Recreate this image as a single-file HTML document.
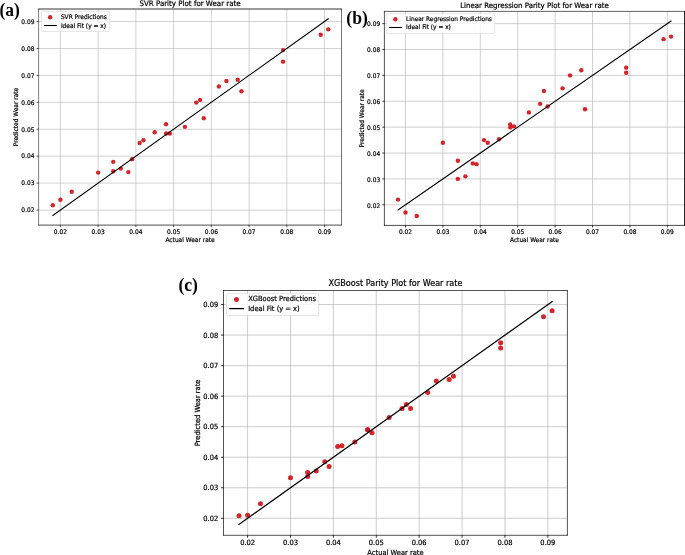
<!DOCTYPE html>
<html><head><meta charset="utf-8"><title>Parity plots</title>
<style>html,body{margin:0;padding:0;background:#fff;}svg{display:block}</style></head>
<body>
<svg width="685" height="555" viewBox="0 0 685 555">
<rect width="685" height="555" fill="#fff"/>
<rect x="38.6" y="9.0" width="302.90" height="216.10" fill="#fff"/>
<line x1="60.40" y1="9.0" x2="60.40" y2="225.1" stroke="#b0b0b0" stroke-width="0.56"/>
<line x1="38.6" y1="210.05" x2="341.5" y2="210.05" stroke="#b0b0b0" stroke-width="0.56"/>
<line x1="98.13" y1="9.0" x2="98.13" y2="225.1" stroke="#b0b0b0" stroke-width="0.56"/>
<line x1="38.6" y1="183.12" x2="341.5" y2="183.12" stroke="#b0b0b0" stroke-width="0.56"/>
<line x1="135.86" y1="9.0" x2="135.86" y2="225.1" stroke="#b0b0b0" stroke-width="0.56"/>
<line x1="38.6" y1="156.19" x2="341.5" y2="156.19" stroke="#b0b0b0" stroke-width="0.56"/>
<line x1="173.59" y1="9.0" x2="173.59" y2="225.1" stroke="#b0b0b0" stroke-width="0.56"/>
<line x1="38.6" y1="129.26" x2="341.5" y2="129.26" stroke="#b0b0b0" stroke-width="0.56"/>
<line x1="211.32" y1="9.0" x2="211.32" y2="225.1" stroke="#b0b0b0" stroke-width="0.56"/>
<line x1="38.6" y1="102.33" x2="341.5" y2="102.33" stroke="#b0b0b0" stroke-width="0.56"/>
<line x1="249.05" y1="9.0" x2="249.05" y2="225.1" stroke="#b0b0b0" stroke-width="0.56"/>
<line x1="38.6" y1="75.40" x2="341.5" y2="75.40" stroke="#b0b0b0" stroke-width="0.56"/>
<line x1="286.78" y1="9.0" x2="286.78" y2="225.1" stroke="#b0b0b0" stroke-width="0.56"/>
<line x1="38.6" y1="48.47" x2="341.5" y2="48.47" stroke="#b0b0b0" stroke-width="0.56"/>
<line x1="324.51" y1="9.0" x2="324.51" y2="225.1" stroke="#b0b0b0" stroke-width="0.56"/>
<line x1="38.6" y1="21.54" x2="341.5" y2="21.54" stroke="#b0b0b0" stroke-width="0.56"/>
<circle cx="52.85" cy="205.20" r="2.2" fill="#d1151a" fill-opacity="0.93"/>
<circle cx="60.40" cy="199.82" r="2.2" fill="#d1151a" fill-opacity="0.93"/>
<circle cx="71.72" cy="191.74" r="2.2" fill="#d1151a" fill-opacity="0.93"/>
<circle cx="98.13" cy="172.62" r="2.2" fill="#d1151a" fill-opacity="0.93"/>
<circle cx="113.22" cy="161.85" r="2.2" fill="#d1151a" fill-opacity="0.93"/>
<circle cx="113.22" cy="171.27" r="2.2" fill="#d1151a" fill-opacity="0.93"/>
<circle cx="120.77" cy="168.58" r="2.2" fill="#d1151a" fill-opacity="0.93"/>
<circle cx="128.31" cy="172.08" r="2.2" fill="#d1151a" fill-opacity="0.93"/>
<circle cx="132.09" cy="159.15" r="2.2" fill="#d1151a" fill-opacity="0.93"/>
<circle cx="139.63" cy="142.99" r="2.2" fill="#d1151a" fill-opacity="0.93"/>
<circle cx="143.41" cy="140.30" r="2.2" fill="#d1151a" fill-opacity="0.93"/>
<circle cx="154.72" cy="132.22" r="2.2" fill="#d1151a" fill-opacity="0.93"/>
<circle cx="166.04" cy="124.14" r="2.2" fill="#d1151a" fill-opacity="0.93"/>
<circle cx="166.04" cy="133.57" r="2.2" fill="#d1151a" fill-opacity="0.93"/>
<circle cx="169.82" cy="133.57" r="2.2" fill="#d1151a" fill-opacity="0.93"/>
<circle cx="184.91" cy="126.84" r="2.2" fill="#d1151a" fill-opacity="0.93"/>
<circle cx="196.23" cy="102.60" r="2.2" fill="#d1151a" fill-opacity="0.93"/>
<circle cx="200.00" cy="99.91" r="2.2" fill="#d1151a" fill-opacity="0.93"/>
<circle cx="203.77" cy="118.22" r="2.2" fill="#d1151a" fill-opacity="0.93"/>
<circle cx="218.87" cy="86.44" r="2.2" fill="#d1151a" fill-opacity="0.93"/>
<circle cx="226.41" cy="81.06" r="2.2" fill="#d1151a" fill-opacity="0.93"/>
<circle cx="237.73" cy="79.71" r="2.2" fill="#d1151a" fill-opacity="0.93"/>
<circle cx="241.50" cy="91.29" r="2.2" fill="#d1151a" fill-opacity="0.93"/>
<circle cx="283.01" cy="50.09" r="2.2" fill="#d1151a" fill-opacity="0.93"/>
<circle cx="283.01" cy="61.67" r="2.2" fill="#d1151a" fill-opacity="0.93"/>
<circle cx="320.74" cy="34.74" r="2.2" fill="#d1151a" fill-opacity="0.93"/>
<circle cx="328.28" cy="29.35" r="2.2" fill="#d1151a" fill-opacity="0.93"/>
<line x1="52.85" y1="215.44" x2="328.28" y2="18.85" stroke="#000" stroke-width="1.08" stroke-linecap="square"/>
<line x1="38.6" y1="8.60" x2="38.6" y2="225.45" stroke="#000" stroke-width="0.5"/>
<line x1="341.5" y1="8.60" x2="341.5" y2="225.45" stroke="#000" stroke-width="0.55"/>
<line x1="38.35" y1="9.0" x2="341.77" y2="9.0" stroke="#000" stroke-width="0.8"/>
<line x1="38.35" y1="225.1" x2="341.77" y2="225.1" stroke="#000" stroke-width="0.7"/>
<line x1="60.40" y1="225.1" x2="60.40" y2="227.16" stroke="#000" stroke-width="0.70"/>
<text transform="translate(60.40,233.71) scale(1,1.07)" font-size="5.90" text-anchor="middle" font-family="DejaVu Sans, Liberation Sans, sans-serif" stroke="#000" stroke-width="0.20" fill="#000">0.02</text>
<line x1="36.54" y1="210.05" x2="38.6" y2="210.05" stroke="#000" stroke-width="0.70"/>
<text transform="translate(34.47,212.29) scale(1,1.07)" font-size="5.90" text-anchor="end" font-family="DejaVu Sans, Liberation Sans, sans-serif" stroke="#000" stroke-width="0.20" fill="#000">0.02</text>
<line x1="98.13" y1="225.1" x2="98.13" y2="227.16" stroke="#000" stroke-width="0.70"/>
<text transform="translate(98.13,233.71) scale(1,1.07)" font-size="5.90" text-anchor="middle" font-family="DejaVu Sans, Liberation Sans, sans-serif" stroke="#000" stroke-width="0.20" fill="#000">0.03</text>
<line x1="36.54" y1="183.12" x2="38.6" y2="183.12" stroke="#000" stroke-width="0.70"/>
<text transform="translate(34.47,185.36) scale(1,1.07)" font-size="5.90" text-anchor="end" font-family="DejaVu Sans, Liberation Sans, sans-serif" stroke="#000" stroke-width="0.20" fill="#000">0.03</text>
<line x1="135.86" y1="225.1" x2="135.86" y2="227.16" stroke="#000" stroke-width="0.70"/>
<text transform="translate(135.86,233.71) scale(1,1.07)" font-size="5.90" text-anchor="middle" font-family="DejaVu Sans, Liberation Sans, sans-serif" stroke="#000" stroke-width="0.20" fill="#000">0.04</text>
<line x1="36.54" y1="156.19" x2="38.6" y2="156.19" stroke="#000" stroke-width="0.70"/>
<text transform="translate(34.47,158.43) scale(1,1.07)" font-size="5.90" text-anchor="end" font-family="DejaVu Sans, Liberation Sans, sans-serif" stroke="#000" stroke-width="0.20" fill="#000">0.04</text>
<line x1="173.59" y1="225.1" x2="173.59" y2="227.16" stroke="#000" stroke-width="0.70"/>
<text transform="translate(173.59,233.71) scale(1,1.07)" font-size="5.90" text-anchor="middle" font-family="DejaVu Sans, Liberation Sans, sans-serif" stroke="#000" stroke-width="0.20" fill="#000">0.05</text>
<line x1="36.54" y1="129.26" x2="38.6" y2="129.26" stroke="#000" stroke-width="0.70"/>
<text transform="translate(34.47,131.50) scale(1,1.07)" font-size="5.90" text-anchor="end" font-family="DejaVu Sans, Liberation Sans, sans-serif" stroke="#000" stroke-width="0.20" fill="#000">0.05</text>
<line x1="211.32" y1="225.1" x2="211.32" y2="227.16" stroke="#000" stroke-width="0.70"/>
<text transform="translate(211.32,233.71) scale(1,1.07)" font-size="5.90" text-anchor="middle" font-family="DejaVu Sans, Liberation Sans, sans-serif" stroke="#000" stroke-width="0.20" fill="#000">0.06</text>
<line x1="36.54" y1="102.33" x2="38.6" y2="102.33" stroke="#000" stroke-width="0.70"/>
<text transform="translate(34.47,104.57) scale(1,1.07)" font-size="5.90" text-anchor="end" font-family="DejaVu Sans, Liberation Sans, sans-serif" stroke="#000" stroke-width="0.20" fill="#000">0.06</text>
<line x1="249.05" y1="225.1" x2="249.05" y2="227.16" stroke="#000" stroke-width="0.70"/>
<text transform="translate(249.05,233.71) scale(1,1.07)" font-size="5.90" text-anchor="middle" font-family="DejaVu Sans, Liberation Sans, sans-serif" stroke="#000" stroke-width="0.20" fill="#000">0.07</text>
<line x1="36.54" y1="75.40" x2="38.6" y2="75.40" stroke="#000" stroke-width="0.70"/>
<text transform="translate(34.47,77.64) scale(1,1.07)" font-size="5.90" text-anchor="end" font-family="DejaVu Sans, Liberation Sans, sans-serif" stroke="#000" stroke-width="0.20" fill="#000">0.07</text>
<line x1="286.78" y1="225.1" x2="286.78" y2="227.16" stroke="#000" stroke-width="0.70"/>
<text transform="translate(286.78,233.71) scale(1,1.07)" font-size="5.90" text-anchor="middle" font-family="DejaVu Sans, Liberation Sans, sans-serif" stroke="#000" stroke-width="0.20" fill="#000">0.08</text>
<line x1="36.54" y1="48.47" x2="38.6" y2="48.47" stroke="#000" stroke-width="0.70"/>
<text transform="translate(34.47,50.71) scale(1,1.07)" font-size="5.90" text-anchor="end" font-family="DejaVu Sans, Liberation Sans, sans-serif" stroke="#000" stroke-width="0.20" fill="#000">0.08</text>
<line x1="324.51" y1="225.1" x2="324.51" y2="227.16" stroke="#000" stroke-width="0.70"/>
<text transform="translate(324.51,233.71) scale(1,1.07)" font-size="5.90" text-anchor="middle" font-family="DejaVu Sans, Liberation Sans, sans-serif" stroke="#000" stroke-width="0.20" fill="#000">0.09</text>
<line x1="36.54" y1="21.54" x2="38.6" y2="21.54" stroke="#000" stroke-width="0.70"/>
<text transform="translate(34.47,23.78) scale(1,1.07)" font-size="5.90" text-anchor="end" font-family="DejaVu Sans, Liberation Sans, sans-serif" stroke="#000" stroke-width="0.20" fill="#000">0.09</text>
<text transform="translate(190.05,242.00) scale(1,1.07)" font-size="5.90" text-anchor="middle" font-family="DejaVu Sans, Liberation Sans, sans-serif" stroke="#000" stroke-width="0.20" fill="#000">Actual Wear rate</text>
<text transform="translate(18.00,117.05) rotate(-90) scale(1,1.07)" font-size="5.90" text-anchor="middle" font-family="DejaVu Sans, Liberation Sans, sans-serif" stroke="#000" stroke-width="0.20" fill="#000">Predicted Wear rate</text>
<text transform="translate(190.05,6.00) scale(1,1.07)" font-size="7.08" text-anchor="middle" font-family="DejaVu Sans, Liberation Sans, sans-serif" stroke="#000" stroke-width="0.20" fill="#000">SVR Parity Plot for Wear rate</text>
<rect x="41.4" y="11.4" width="68.0" height="20.1" rx="1.18" fill="#fff" fill-opacity="0.8" stroke="#ccc" stroke-opacity="0.8" stroke-width="0.59"/>
<circle cx="50.11" cy="17.25" r="2.2" fill="#d1151a" fill-opacity="0.93"/>
<line x1="44.36" y1="25.50" x2="56.16" y2="25.50" stroke="#000" stroke-width="1.08" stroke-linecap="square"/>
<text transform="translate(60.88,19.49) scale(1,1.07)" font-size="5.90" text-anchor="start" font-family="DejaVu Sans, Liberation Sans, sans-serif" stroke="#000" stroke-width="0.20" fill="#000">SVR Predictions</text>
<text transform="translate(60.88,27.74) scale(1,1.07)" font-size="5.90" text-anchor="start" font-family="DejaVu Sans, Liberation Sans, sans-serif" stroke="#000" stroke-width="0.20" fill="#000">Ideal Fit (y = x)</text>
<text transform="translate(-0.5,16.4) scale(1,1.04)" font-size="17.5" font-weight="bold" font-family="Liberation Serif, DejaVu Serif, serif">(a)</text>
<rect x="384.4" y="11.4" width="300.10" height="214.00" fill="#fff"/>
<line x1="405.50" y1="11.4" x2="405.50" y2="225.4" stroke="#b0b0b0" stroke-width="0.60"/>
<line x1="384.4" y1="204.80" x2="684.5" y2="204.80" stroke="#b0b0b0" stroke-width="0.60"/>
<line x1="442.90" y1="11.4" x2="442.90" y2="225.4" stroke="#b0b0b0" stroke-width="0.60"/>
<line x1="384.4" y1="178.92" x2="684.5" y2="178.92" stroke="#b0b0b0" stroke-width="0.60"/>
<line x1="480.30" y1="11.4" x2="480.30" y2="225.4" stroke="#b0b0b0" stroke-width="0.60"/>
<line x1="384.4" y1="153.04" x2="684.5" y2="153.04" stroke="#b0b0b0" stroke-width="0.60"/>
<line x1="517.70" y1="11.4" x2="517.70" y2="225.4" stroke="#b0b0b0" stroke-width="0.60"/>
<line x1="384.4" y1="127.16" x2="684.5" y2="127.16" stroke="#b0b0b0" stroke-width="0.60"/>
<line x1="555.10" y1="11.4" x2="555.10" y2="225.4" stroke="#b0b0b0" stroke-width="0.60"/>
<line x1="384.4" y1="101.28" x2="684.5" y2="101.28" stroke="#b0b0b0" stroke-width="0.60"/>
<line x1="592.50" y1="11.4" x2="592.50" y2="225.4" stroke="#b0b0b0" stroke-width="0.60"/>
<line x1="384.4" y1="75.40" x2="684.5" y2="75.40" stroke="#b0b0b0" stroke-width="0.60"/>
<line x1="629.90" y1="11.4" x2="629.90" y2="225.4" stroke="#b0b0b0" stroke-width="0.60"/>
<line x1="384.4" y1="49.52" x2="684.5" y2="49.52" stroke="#b0b0b0" stroke-width="0.60"/>
<line x1="667.30" y1="11.4" x2="667.30" y2="225.4" stroke="#b0b0b0" stroke-width="0.60"/>
<line x1="384.4" y1="23.64" x2="684.5" y2="23.64" stroke="#b0b0b0" stroke-width="0.60"/>
<circle cx="398.02" cy="199.62" r="2.2" fill="#d1151a" fill-opacity="0.93"/>
<circle cx="405.50" cy="212.56" r="2.2" fill="#d1151a" fill-opacity="0.93"/>
<circle cx="416.72" cy="215.93" r="2.2" fill="#d1151a" fill-opacity="0.93"/>
<circle cx="442.90" cy="142.69" r="2.2" fill="#d1151a" fill-opacity="0.93"/>
<circle cx="457.86" cy="160.80" r="2.2" fill="#d1151a" fill-opacity="0.93"/>
<circle cx="457.86" cy="178.92" r="2.2" fill="#d1151a" fill-opacity="0.93"/>
<circle cx="465.34" cy="176.33" r="2.2" fill="#d1151a" fill-opacity="0.93"/>
<circle cx="472.82" cy="163.39" r="2.2" fill="#d1151a" fill-opacity="0.93"/>
<circle cx="476.56" cy="164.17" r="2.2" fill="#d1151a" fill-opacity="0.93"/>
<circle cx="484.04" cy="140.10" r="2.2" fill="#d1151a" fill-opacity="0.93"/>
<circle cx="487.78" cy="142.69" r="2.2" fill="#d1151a" fill-opacity="0.93"/>
<circle cx="499.00" cy="139.32" r="2.2" fill="#d1151a" fill-opacity="0.93"/>
<circle cx="510.22" cy="124.57" r="2.2" fill="#d1151a" fill-opacity="0.93"/>
<circle cx="510.22" cy="127.42" r="2.2" fill="#d1151a" fill-opacity="0.93"/>
<circle cx="513.96" cy="126.38" r="2.2" fill="#d1151a" fill-opacity="0.93"/>
<circle cx="528.92" cy="112.41" r="2.2" fill="#d1151a" fill-opacity="0.93"/>
<circle cx="540.14" cy="103.87" r="2.2" fill="#d1151a" fill-opacity="0.93"/>
<circle cx="543.88" cy="90.93" r="2.2" fill="#d1151a" fill-opacity="0.93"/>
<circle cx="547.62" cy="106.46" r="2.2" fill="#d1151a" fill-opacity="0.93"/>
<circle cx="562.58" cy="88.34" r="2.2" fill="#d1151a" fill-opacity="0.93"/>
<circle cx="570.06" cy="75.40" r="2.2" fill="#d1151a" fill-opacity="0.93"/>
<circle cx="581.28" cy="70.22" r="2.2" fill="#d1151a" fill-opacity="0.93"/>
<circle cx="585.02" cy="109.30" r="2.2" fill="#d1151a" fill-opacity="0.93"/>
<circle cx="626.16" cy="67.64" r="2.2" fill="#d1151a" fill-opacity="0.93"/>
<circle cx="626.16" cy="72.81" r="2.2" fill="#d1151a" fill-opacity="0.93"/>
<circle cx="663.56" cy="39.17" r="2.2" fill="#d1151a" fill-opacity="0.93"/>
<circle cx="671.04" cy="36.58" r="2.2" fill="#d1151a" fill-opacity="0.93"/>
<line x1="398.02" y1="209.98" x2="671.04" y2="21.05" stroke="#000" stroke-width="1.08" stroke-linecap="square"/>
<line x1="384.4" y1="11.09" x2="384.4" y2="225.76" stroke="#000" stroke-width="0.67"/>
<line x1="684.5" y1="11.09" x2="684.5" y2="225.76" stroke="#000" stroke-width="0.85"/>
<line x1="384.06" y1="11.4" x2="684.92" y2="11.4" stroke="#000" stroke-width="0.62"/>
<line x1="384.06" y1="225.4" x2="684.92" y2="225.4" stroke="#000" stroke-width="0.72"/>
<line x1="405.50" y1="225.4" x2="405.50" y2="227.45" stroke="#000" stroke-width="0.80"/>
<text transform="translate(405.50,233.96) scale(1,1.07)" font-size="5.86" text-anchor="middle" font-family="DejaVu Sans, Liberation Sans, sans-serif" stroke="#000" stroke-width="0.20" fill="#000">0.02</text>
<line x1="382.35" y1="204.80" x2="384.4" y2="204.80" stroke="#000" stroke-width="0.80"/>
<text transform="translate(380.10,207.53) scale(1,1.07)" font-size="5.86" text-anchor="end" font-family="DejaVu Sans, Liberation Sans, sans-serif" stroke="#000" stroke-width="0.20" fill="#000">0.02</text>
<line x1="442.90" y1="225.4" x2="442.90" y2="227.45" stroke="#000" stroke-width="0.80"/>
<text transform="translate(442.90,233.96) scale(1,1.07)" font-size="5.86" text-anchor="middle" font-family="DejaVu Sans, Liberation Sans, sans-serif" stroke="#000" stroke-width="0.20" fill="#000">0.03</text>
<line x1="382.35" y1="178.92" x2="384.4" y2="178.92" stroke="#000" stroke-width="0.80"/>
<text transform="translate(380.10,181.65) scale(1,1.07)" font-size="5.86" text-anchor="end" font-family="DejaVu Sans, Liberation Sans, sans-serif" stroke="#000" stroke-width="0.20" fill="#000">0.03</text>
<line x1="480.30" y1="225.4" x2="480.30" y2="227.45" stroke="#000" stroke-width="0.80"/>
<text transform="translate(480.30,233.96) scale(1,1.07)" font-size="5.86" text-anchor="middle" font-family="DejaVu Sans, Liberation Sans, sans-serif" stroke="#000" stroke-width="0.20" fill="#000">0.04</text>
<line x1="382.35" y1="153.04" x2="384.4" y2="153.04" stroke="#000" stroke-width="0.80"/>
<text transform="translate(380.10,155.77) scale(1,1.07)" font-size="5.86" text-anchor="end" font-family="DejaVu Sans, Liberation Sans, sans-serif" stroke="#000" stroke-width="0.20" fill="#000">0.04</text>
<line x1="517.70" y1="225.4" x2="517.70" y2="227.45" stroke="#000" stroke-width="0.80"/>
<text transform="translate(517.70,233.96) scale(1,1.07)" font-size="5.86" text-anchor="middle" font-family="DejaVu Sans, Liberation Sans, sans-serif" stroke="#000" stroke-width="0.20" fill="#000">0.05</text>
<line x1="382.35" y1="127.16" x2="384.4" y2="127.16" stroke="#000" stroke-width="0.80"/>
<text transform="translate(380.10,129.89) scale(1,1.07)" font-size="5.86" text-anchor="end" font-family="DejaVu Sans, Liberation Sans, sans-serif" stroke="#000" stroke-width="0.20" fill="#000">0.05</text>
<line x1="555.10" y1="225.4" x2="555.10" y2="227.45" stroke="#000" stroke-width="0.80"/>
<text transform="translate(555.10,233.96) scale(1,1.07)" font-size="5.86" text-anchor="middle" font-family="DejaVu Sans, Liberation Sans, sans-serif" stroke="#000" stroke-width="0.20" fill="#000">0.06</text>
<line x1="382.35" y1="101.28" x2="384.4" y2="101.28" stroke="#000" stroke-width="0.80"/>
<text transform="translate(380.10,104.01) scale(1,1.07)" font-size="5.86" text-anchor="end" font-family="DejaVu Sans, Liberation Sans, sans-serif" stroke="#000" stroke-width="0.20" fill="#000">0.06</text>
<line x1="592.50" y1="225.4" x2="592.50" y2="227.45" stroke="#000" stroke-width="0.80"/>
<text transform="translate(592.50,233.96) scale(1,1.07)" font-size="5.86" text-anchor="middle" font-family="DejaVu Sans, Liberation Sans, sans-serif" stroke="#000" stroke-width="0.20" fill="#000">0.07</text>
<line x1="382.35" y1="75.40" x2="384.4" y2="75.40" stroke="#000" stroke-width="0.80"/>
<text transform="translate(380.10,78.13) scale(1,1.07)" font-size="5.86" text-anchor="end" font-family="DejaVu Sans, Liberation Sans, sans-serif" stroke="#000" stroke-width="0.20" fill="#000">0.07</text>
<line x1="629.90" y1="225.4" x2="629.90" y2="227.45" stroke="#000" stroke-width="0.80"/>
<text transform="translate(629.90,233.96) scale(1,1.07)" font-size="5.86" text-anchor="middle" font-family="DejaVu Sans, Liberation Sans, sans-serif" stroke="#000" stroke-width="0.20" fill="#000">0.08</text>
<line x1="382.35" y1="49.52" x2="384.4" y2="49.52" stroke="#000" stroke-width="0.80"/>
<text transform="translate(380.10,52.25) scale(1,1.07)" font-size="5.86" text-anchor="end" font-family="DejaVu Sans, Liberation Sans, sans-serif" stroke="#000" stroke-width="0.20" fill="#000">0.08</text>
<line x1="667.30" y1="225.4" x2="667.30" y2="227.45" stroke="#000" stroke-width="0.80"/>
<text transform="translate(667.30,233.96) scale(1,1.07)" font-size="5.86" text-anchor="middle" font-family="DejaVu Sans, Liberation Sans, sans-serif" stroke="#000" stroke-width="0.20" fill="#000">0.09</text>
<line x1="382.35" y1="23.64" x2="384.4" y2="23.64" stroke="#000" stroke-width="0.80"/>
<text transform="translate(380.10,26.37) scale(1,1.07)" font-size="5.86" text-anchor="end" font-family="DejaVu Sans, Liberation Sans, sans-serif" stroke="#000" stroke-width="0.20" fill="#000">0.09</text>
<text transform="translate(534.45,242.00) scale(1,1.07)" font-size="5.86" text-anchor="middle" font-family="DejaVu Sans, Liberation Sans, sans-serif" stroke="#000" stroke-width="0.20" fill="#000">Actual Wear rate</text>
<text transform="translate(363.50,118.40) rotate(-90) scale(1,1.07)" font-size="5.86" text-anchor="middle" font-family="DejaVu Sans, Liberation Sans, sans-serif" stroke="#000" stroke-width="0.20" fill="#000">Predicted Wear rate</text>
<text transform="translate(534.45,7.90) scale(1,1.07)" font-size="7.03" text-anchor="middle" font-family="DejaVu Sans, Liberation Sans, sans-serif" stroke="#000" stroke-width="0.20" fill="#000">Linear Regression Parity Plot for Wear rate</text>
<rect x="386.7" y="13.6" width="108.0" height="20.0" rx="1.17" fill="#fff" fill-opacity="0.8" stroke="#ccc" stroke-opacity="0.8" stroke-width="0.59"/>
<circle cx="395.35" cy="19.30" r="2.2" fill="#d1151a" fill-opacity="0.93"/>
<line x1="389.64" y1="27.50" x2="401.36" y2="27.50" stroke="#000" stroke-width="1.08" stroke-linecap="square"/>
<text transform="translate(406.05,21.03) scale(1,1.07)" font-size="5.86" text-anchor="start" font-family="DejaVu Sans, Liberation Sans, sans-serif" stroke="#000" stroke-width="0.20" fill="#000">Linear Regression Predictions</text>
<text transform="translate(406.05,29.43) scale(1,1.07)" font-size="5.86" text-anchor="start" font-family="DejaVu Sans, Liberation Sans, sans-serif" stroke="#000" stroke-width="0.20" fill="#000">Ideal Fit (y = x)</text>
<text transform="translate(346.3,23.8) scale(1,1.04)" font-size="17.6" font-weight="bold" font-family="Liberation Serif, DejaVu Serif, serif">(b)</text>
<rect x="223.5" y="290.5" width="343.90" height="244.80" fill="#fff"/>
<line x1="247.60" y1="290.5" x2="247.60" y2="535.3" stroke="#b0b0b0" stroke-width="0.63"/>
<line x1="223.5" y1="518.30" x2="567.4" y2="518.30" stroke="#b0b0b0" stroke-width="0.63"/>
<line x1="290.49" y1="290.5" x2="290.49" y2="535.3" stroke="#b0b0b0" stroke-width="0.63"/>
<line x1="223.5" y1="487.77" x2="567.4" y2="487.77" stroke="#b0b0b0" stroke-width="0.63"/>
<line x1="333.38" y1="290.5" x2="333.38" y2="535.3" stroke="#b0b0b0" stroke-width="0.63"/>
<line x1="223.5" y1="457.24" x2="567.4" y2="457.24" stroke="#b0b0b0" stroke-width="0.63"/>
<line x1="376.27" y1="290.5" x2="376.27" y2="535.3" stroke="#b0b0b0" stroke-width="0.63"/>
<line x1="223.5" y1="426.71" x2="567.4" y2="426.71" stroke="#b0b0b0" stroke-width="0.63"/>
<line x1="419.16" y1="290.5" x2="419.16" y2="535.3" stroke="#b0b0b0" stroke-width="0.63"/>
<line x1="223.5" y1="396.18" x2="567.4" y2="396.18" stroke="#b0b0b0" stroke-width="0.63"/>
<line x1="462.05" y1="290.5" x2="462.05" y2="535.3" stroke="#b0b0b0" stroke-width="0.63"/>
<line x1="223.5" y1="365.65" x2="567.4" y2="365.65" stroke="#b0b0b0" stroke-width="0.63"/>
<line x1="504.94" y1="290.5" x2="504.94" y2="535.3" stroke="#b0b0b0" stroke-width="0.63"/>
<line x1="223.5" y1="335.12" x2="567.4" y2="335.12" stroke="#b0b0b0" stroke-width="0.63"/>
<line x1="547.83" y1="290.5" x2="547.83" y2="535.3" stroke="#b0b0b0" stroke-width="0.63"/>
<line x1="223.5" y1="304.59" x2="567.4" y2="304.59" stroke="#b0b0b0" stroke-width="0.63"/>
<circle cx="239.02" cy="515.86" r="2.5" fill="#d1151a" fill-opacity="0.93"/>
<circle cx="247.60" cy="515.25" r="2.5" fill="#d1151a" fill-opacity="0.93"/>
<circle cx="260.47" cy="503.65" r="2.5" fill="#d1151a" fill-opacity="0.93"/>
<circle cx="290.49" cy="477.70" r="2.5" fill="#d1151a" fill-opacity="0.93"/>
<circle cx="307.65" cy="472.50" r="2.5" fill="#d1151a" fill-opacity="0.93"/>
<circle cx="307.65" cy="476.47" r="2.5" fill="#d1151a" fill-opacity="0.93"/>
<circle cx="316.22" cy="470.98" r="2.5" fill="#d1151a" fill-opacity="0.93"/>
<circle cx="324.80" cy="461.82" r="2.5" fill="#d1151a" fill-opacity="0.93"/>
<circle cx="329.09" cy="466.40" r="2.5" fill="#d1151a" fill-opacity="0.93"/>
<circle cx="337.67" cy="446.55" r="2.5" fill="#d1151a" fill-opacity="0.93"/>
<circle cx="341.96" cy="445.64" r="2.5" fill="#d1151a" fill-opacity="0.93"/>
<circle cx="354.82" cy="441.97" r="2.5" fill="#d1151a" fill-opacity="0.93"/>
<circle cx="367.69" cy="429.76" r="2.5" fill="#d1151a" fill-opacity="0.93"/>
<circle cx="367.69" cy="429.76" r="2.5" fill="#d1151a" fill-opacity="0.93"/>
<circle cx="371.98" cy="432.82" r="2.5" fill="#d1151a" fill-opacity="0.93"/>
<circle cx="389.14" cy="417.55" r="2.5" fill="#d1151a" fill-opacity="0.93"/>
<circle cx="402.00" cy="408.39" r="2.5" fill="#d1151a" fill-opacity="0.93"/>
<circle cx="406.29" cy="404.42" r="2.5" fill="#d1151a" fill-opacity="0.93"/>
<circle cx="410.58" cy="408.39" r="2.5" fill="#d1151a" fill-opacity="0.93"/>
<circle cx="427.74" cy="392.52" r="2.5" fill="#d1151a" fill-opacity="0.93"/>
<circle cx="436.32" cy="380.91" r="2.5" fill="#d1151a" fill-opacity="0.93"/>
<circle cx="449.18" cy="379.39" r="2.5" fill="#d1151a" fill-opacity="0.93"/>
<circle cx="453.47" cy="376.34" r="2.5" fill="#d1151a" fill-opacity="0.93"/>
<circle cx="500.65" cy="342.75" r="2.5" fill="#d1151a" fill-opacity="0.93"/>
<circle cx="500.65" cy="347.94" r="2.5" fill="#d1151a" fill-opacity="0.93"/>
<circle cx="543.54" cy="316.80" r="2.5" fill="#d1151a" fill-opacity="0.93"/>
<circle cx="552.12" cy="310.70" r="2.5" fill="#d1151a" fill-opacity="0.93"/>
<line x1="239.02" y1="524.41" x2="552.12" y2="301.54" stroke="#000" stroke-width="1.3" stroke-linecap="square"/>
<line x1="223.5" y1="290.16" x2="223.5" y2="535.64" stroke="#000" stroke-width="0.68"/>
<line x1="567.4" y1="290.16" x2="567.4" y2="535.64" stroke="#000" stroke-width="0.68"/>
<line x1="223.16" y1="290.5" x2="567.74" y2="290.5" stroke="#000" stroke-width="0.68"/>
<line x1="223.16" y1="535.3" x2="567.74" y2="535.3" stroke="#000" stroke-width="0.68"/>
<line x1="247.60" y1="535.3" x2="247.60" y2="537.66" stroke="#000" stroke-width="0.85"/>
<text transform="translate(247.60,545.43) scale(1,1.07)" font-size="6.73" text-anchor="middle" font-family="DejaVu Sans, Liberation Sans, sans-serif" stroke="#000" stroke-width="0.20" fill="#000">0.02</text>
<line x1="221.14" y1="518.30" x2="223.5" y2="518.30" stroke="#000" stroke-width="0.85"/>
<text transform="translate(218.19,520.86) scale(1,1.07)" font-size="6.73" text-anchor="end" font-family="DejaVu Sans, Liberation Sans, sans-serif" stroke="#000" stroke-width="0.20" fill="#000">0.02</text>
<line x1="290.49" y1="535.3" x2="290.49" y2="537.66" stroke="#000" stroke-width="0.85"/>
<text transform="translate(290.49,545.43) scale(1,1.07)" font-size="6.73" text-anchor="middle" font-family="DejaVu Sans, Liberation Sans, sans-serif" stroke="#000" stroke-width="0.20" fill="#000">0.03</text>
<line x1="221.14" y1="487.77" x2="223.5" y2="487.77" stroke="#000" stroke-width="0.85"/>
<text transform="translate(218.19,490.33) scale(1,1.07)" font-size="6.73" text-anchor="end" font-family="DejaVu Sans, Liberation Sans, sans-serif" stroke="#000" stroke-width="0.20" fill="#000">0.03</text>
<line x1="333.38" y1="535.3" x2="333.38" y2="537.66" stroke="#000" stroke-width="0.85"/>
<text transform="translate(333.38,545.43) scale(1,1.07)" font-size="6.73" text-anchor="middle" font-family="DejaVu Sans, Liberation Sans, sans-serif" stroke="#000" stroke-width="0.20" fill="#000">0.04</text>
<line x1="221.14" y1="457.24" x2="223.5" y2="457.24" stroke="#000" stroke-width="0.85"/>
<text transform="translate(218.19,459.80) scale(1,1.07)" font-size="6.73" text-anchor="end" font-family="DejaVu Sans, Liberation Sans, sans-serif" stroke="#000" stroke-width="0.20" fill="#000">0.04</text>
<line x1="376.27" y1="535.3" x2="376.27" y2="537.66" stroke="#000" stroke-width="0.85"/>
<text transform="translate(376.27,545.43) scale(1,1.07)" font-size="6.73" text-anchor="middle" font-family="DejaVu Sans, Liberation Sans, sans-serif" stroke="#000" stroke-width="0.20" fill="#000">0.05</text>
<line x1="221.14" y1="426.71" x2="223.5" y2="426.71" stroke="#000" stroke-width="0.85"/>
<text transform="translate(218.19,429.27) scale(1,1.07)" font-size="6.73" text-anchor="end" font-family="DejaVu Sans, Liberation Sans, sans-serif" stroke="#000" stroke-width="0.20" fill="#000">0.05</text>
<line x1="419.16" y1="535.3" x2="419.16" y2="537.66" stroke="#000" stroke-width="0.85"/>
<text transform="translate(419.16,545.43) scale(1,1.07)" font-size="6.73" text-anchor="middle" font-family="DejaVu Sans, Liberation Sans, sans-serif" stroke="#000" stroke-width="0.20" fill="#000">0.06</text>
<line x1="221.14" y1="396.18" x2="223.5" y2="396.18" stroke="#000" stroke-width="0.85"/>
<text transform="translate(218.19,398.74) scale(1,1.07)" font-size="6.73" text-anchor="end" font-family="DejaVu Sans, Liberation Sans, sans-serif" stroke="#000" stroke-width="0.20" fill="#000">0.06</text>
<line x1="462.05" y1="535.3" x2="462.05" y2="537.66" stroke="#000" stroke-width="0.85"/>
<text transform="translate(462.05,545.43) scale(1,1.07)" font-size="6.73" text-anchor="middle" font-family="DejaVu Sans, Liberation Sans, sans-serif" stroke="#000" stroke-width="0.20" fill="#000">0.07</text>
<line x1="221.14" y1="365.65" x2="223.5" y2="365.65" stroke="#000" stroke-width="0.85"/>
<text transform="translate(218.19,368.21) scale(1,1.07)" font-size="6.73" text-anchor="end" font-family="DejaVu Sans, Liberation Sans, sans-serif" stroke="#000" stroke-width="0.20" fill="#000">0.07</text>
<line x1="504.94" y1="535.3" x2="504.94" y2="537.66" stroke="#000" stroke-width="0.85"/>
<text transform="translate(504.94,545.43) scale(1,1.07)" font-size="6.73" text-anchor="middle" font-family="DejaVu Sans, Liberation Sans, sans-serif" stroke="#000" stroke-width="0.20" fill="#000">0.08</text>
<line x1="221.14" y1="335.12" x2="223.5" y2="335.12" stroke="#000" stroke-width="0.85"/>
<text transform="translate(218.19,337.68) scale(1,1.07)" font-size="6.73" text-anchor="end" font-family="DejaVu Sans, Liberation Sans, sans-serif" stroke="#000" stroke-width="0.20" fill="#000">0.08</text>
<line x1="547.83" y1="535.3" x2="547.83" y2="537.66" stroke="#000" stroke-width="0.85"/>
<text transform="translate(547.83,545.43) scale(1,1.07)" font-size="6.73" text-anchor="middle" font-family="DejaVu Sans, Liberation Sans, sans-serif" stroke="#000" stroke-width="0.20" fill="#000">0.09</text>
<line x1="221.14" y1="304.59" x2="223.5" y2="304.59" stroke="#000" stroke-width="0.85"/>
<text transform="translate(218.19,307.15) scale(1,1.07)" font-size="6.73" text-anchor="end" font-family="DejaVu Sans, Liberation Sans, sans-serif" stroke="#000" stroke-width="0.20" fill="#000">0.09</text>
<text transform="translate(395.45,555.30) scale(1,1.07)" font-size="6.73" text-anchor="middle" font-family="DejaVu Sans, Liberation Sans, sans-serif" stroke="#000" stroke-width="0.20" fill="#000">Actual Wear rate</text>
<text transform="translate(199.60,412.90) rotate(-90) scale(1,1.07)" font-size="6.73" text-anchor="middle" font-family="DejaVu Sans, Liberation Sans, sans-serif" stroke="#000" stroke-width="0.20" fill="#000">Predicted Wear rate</text>
<text transform="translate(395.45,286.30) scale(1,1.07)" font-size="8.08" text-anchor="middle" font-family="DejaVu Sans, Liberation Sans, sans-serif" stroke="#000" stroke-width="0.20" fill="#000">XGBoost Parity Plot for Wear rate</text>
<rect x="226.6" y="293.4" width="92.0" height="22.1" rx="1.35" fill="#fff" fill-opacity="0.8" stroke="#ccc" stroke-opacity="0.8" stroke-width="0.67"/>
<circle cx="236.47" cy="299.40" r="2.5" fill="#d1151a" fill-opacity="0.93"/>
<line x1="229.89" y1="308.60" x2="243.35" y2="308.60" stroke="#000" stroke-width="1.3" stroke-linecap="square"/>
<text transform="translate(248.14,301.46) scale(1,1.07)" font-size="6.73" text-anchor="start" font-family="DejaVu Sans, Liberation Sans, sans-serif" stroke="#000" stroke-width="0.20" fill="#000">XGBoost Predictions</text>
<text transform="translate(248.14,311.16) scale(1,1.07)" font-size="6.73" text-anchor="start" font-family="DejaVu Sans, Liberation Sans, sans-serif" stroke="#000" stroke-width="0.20" fill="#000">Ideal Fit (y = x)</text>
<text transform="translate(178.4,291.3) scale(1,1.04)" font-size="17.6" font-weight="bold" font-family="Liberation Serif, DejaVu Serif, serif">(c)</text>
</svg>
</body></html>
